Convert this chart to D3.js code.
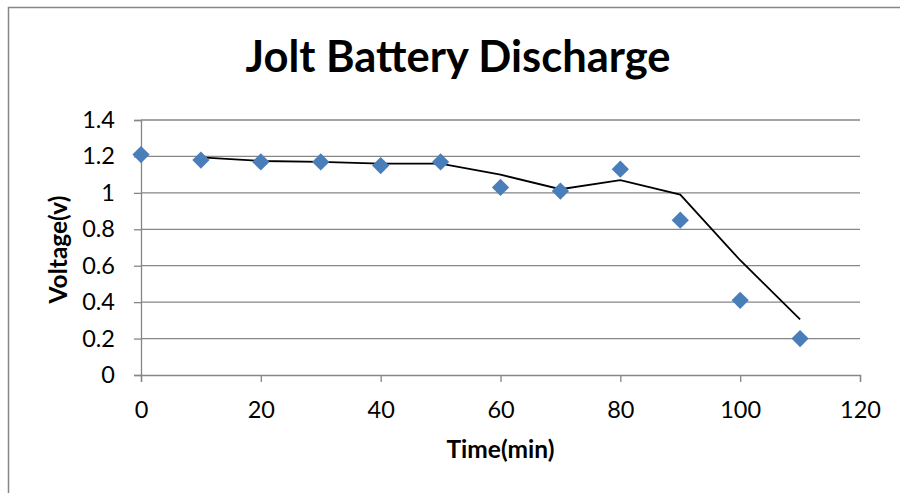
<!DOCTYPE html>
<html>
<head>
<meta charset="utf-8">
<script src="https://cdn.jsdelivr.net/npm/d3@7"></script>
<style>
  body { margin: 0; background: #fff; }
  svg { display: block; font-family: Lato, "Open Sans", sans-serif; }
</style>
</head>
<body>
<script>
// ---- data ----
var times    = [0, 10, 20, 30, 40, 50, 60, 70, 80, 90, 100, 110];
var voltages = [1.21, 1.18, 1.17, 1.17, 1.15, 1.17, 1.03, 1.01, 1.13, 0.85, 0.41, 0.20];
// trend line (2 point moving average as drawn), starts at t=10
var trendTimes  = [10, 20, 30, 40, 50, 60, 70, 80, 90, 100, 110];
var trendValues = [1.195, 1.175, 1.17, 1.16, 1.16, 1.10, 1.02, 1.07, 0.99, 0.63, 0.305];
var xTicks = [0, 20, 40, 60, 80, 100, 120];
var yTicks = [0, 0.2, 0.4, 0.6, 0.8, 1, 1.2, 1.4];

var W = 900, H = 493;
var plot = { left: 141, right: 860, top: 120, bottom: 375 };

var svg = d3.select("body").append("svg")
    .attr("width", W)
    .attr("height", H);

// chart frame (only top and left edges show in the crop)
svg.append("path")
    .attr("d", "M8.5," + H + "V7.5H" + W)
    .attr("fill", "none")
    .attr("stroke", "#868686")
    .attr("stroke-width", 1.5);

var x = d3.scaleLinear().domain([0, 120]).range([plot.left, plot.right]);
var y = d3.scaleLinear().domain([0, 1.4]).range([plot.bottom, plot.top]);

// gridlines
svg.append("g")
    .selectAll("line")
    .data(yTicks.slice(1))
    .enter().append("line")
    .attr("x1", plot.left)
    .attr("x2", plot.right)
    .attr("y1", function(d) { return y(d); })
    .attr("y2", function(d) { return y(d); })
    .attr("stroke", "#868686")
    .attr("stroke-width", 1.3);

// y axis
var yAxis = svg.append("g")
    .attr("transform", "translate(" + plot.left + ",0)")
    .call(d3.axisLeft(y).tickValues(yTicks).tickSize(7).tickPadding(19)
        .tickFormat(function(d) { return d3.format("")(+d.toFixed(1)); }));
yAxis.select(".domain").attr("stroke", "#868686").attr("stroke-width", 1.3);
yAxis.selectAll(".tick line").attr("stroke", "#868686").attr("stroke-width", 1.3);
yAxis.selectAll("text")
    .attr("fill", "#000")
    .style("font-size", "23.5px")
    .style("font-family", "Lato, sans-serif");

// x axis
var xAxis = svg.append("g")
    .attr("transform", "translate(0," + plot.bottom + ")")
    .call(d3.axisBottom(x).tickValues(xTicks).tickSizeInner(7).tickSizeOuter(7).tickPadding(19));
xAxis.select(".domain").attr("stroke", "#868686").attr("stroke-width", 1.3);
xAxis.selectAll(".tick line").attr("stroke", "#868686").attr("stroke-width", 1.3);
xAxis.selectAll("text")
    .attr("fill", "#000")
    .style("font-size", "23.5px")
    .style("font-family", "Lato, sans-serif");

// trend line
var line = d3.line()
    .x(function(d) { return x(d[0]); })
    .y(function(d) { return y(d[1]); });

svg.append("path")
    .datum(d3.zip(trendTimes, trendValues))
    .attr("d", line)
    .attr("fill", "none")
    .attr("stroke", "#000")
    .attr("stroke-width", 1.8);

// diamond markers
var diamond = d3.symbol().type(d3.symbolDiamond2).size(190);
svg.append("g")
    .selectAll("path")
    .data(d3.zip(times, voltages))
    .enter().append("path")
    .attr("d", diamond)
    .attr("transform", function(d) { return "translate(" + x(d[0]) + "," + y(d[1]) + ")"; })
    .attr("fill", "#4a7ebb");

// title
svg.append("text")
    .attr("x", 458)
    .attr("y", 72)
    .attr("text-anchor", "middle")
    .style("font-size", "43.5px")
    .style("font-weight", "bold")
    .text("Jolt Battery Discharge");

// axis titles
svg.append("text")
    .attr("x", (plot.left + plot.right) / 2)
    .attr("y", 458)
    .attr("text-anchor", "middle")
    .style("font-size", "24.5px")
    .style("font-weight", "bold")
    .text("Time(min)");

svg.append("text")
    .attr("transform", "translate(67," + ((plot.top + plot.bottom) / 2 + 2) + ") rotate(-90)")
    .attr("text-anchor", "middle")
    .style("font-size", "24.5px")
    .style("font-weight", "bold")
    .text("Voltage(v)");
</script>
</body>
</html>
